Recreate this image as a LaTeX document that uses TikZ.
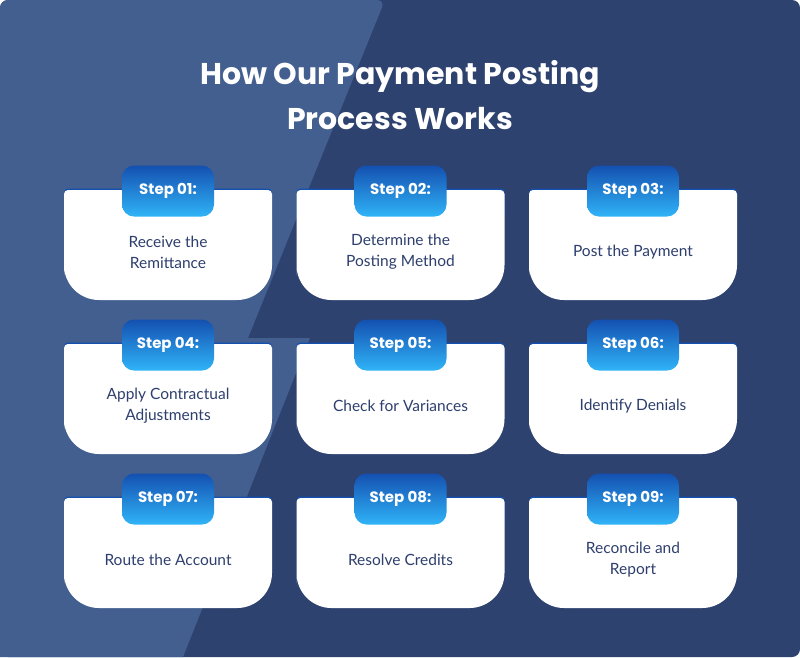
\documentclass[tikz,border=0pt]{standalone}
\usepackage{fontspec}
\setmainfont{Poppins}
\newfontfamily\bodyf{Lato}
\usetikzlibrary{shadings}
\definecolor{bgdark}{HTML}{2E4270}
\definecolor{bglight}{HTML}{435F8F}
\definecolor{txt}{HTML}{2E3F6E}
\definecolor{btop}{HTML}{1450B0}
\definecolor{bbot}{HTML}{30B4F8}
\begin{document}
\begin{tikzpicture}[x=1pt,y=-1pt,
  badge/.style={rounded corners=12pt,top color=btop,bottom color=bbot,minimum width=92pt,minimum height=51pt,text=white,font=\fontsize{15}{18}\selectfont\bfseries,inner sep=0pt},
  body/.style={text=txt,font=\bodyf\fontsize{15.5}{21}\selectfont,align=center}]
\useasboundingbox (0,0) rectangle (800,657);
\fill[bgdark,rounded corners=8pt] (0,0) rectangle (800,657);
\fill[bglight,rounded corners=8pt] (0,657) -- (0,0) -- (385,0) [sharp corners]-- (248,338) -- (310,338) -- (183,657) -- cycle;
\node[text=white,font=\fontsize{30}{45}\selectfont\bfseries,align=center] (title) at (400,95) {How Our Payment Posting\\Process Works};
\foreach \c/\r/\n/\t [count=\i] in {
 0/0/01/{Receive the\\Remittance},1/0/02/{Determine the\\Posting Method},2/0/03/{Post the Payment},
 0/1/04/{Apply Contractual\\Adjustments},1/1/05/{Check for Variances},2/1/06/{Identify Denials},
 0/2/07/{Route the Account},1/2/08/{Resolve Credits},2/2/09/{Reconcile and\\Report}}{
  \pgfmathsetmacro\xl{64+232.5*\c}
  \pgfmathsetmacro\yt{190+154*\r}
  \fill[btop] (\xl,\yt+30) [rounded corners=4pt] -- (\xl,\yt-1.5) -- (\xl+208,\yt-1.5) -- (\xl+208,\yt+30) -- cycle;
  \fill[white] (\xl,\yt+50) [rounded corners=4pt] -- (\xl,\yt) -- (\xl+208,\yt) -- (\xl+208,\yt+50) [rounded corners=35pt] -- (\xl+208,\yt+110) -- (\xl,\yt+110) -- (\xl,\yt+50) -- cycle;
  \node[badge] (b\i) at (\xl+104,\yt+1) {Step \n:};
  \node[body] (t\i) at (\xl+104,\yt+62) {\t};
}
\end{tikzpicture}
\end{document}
